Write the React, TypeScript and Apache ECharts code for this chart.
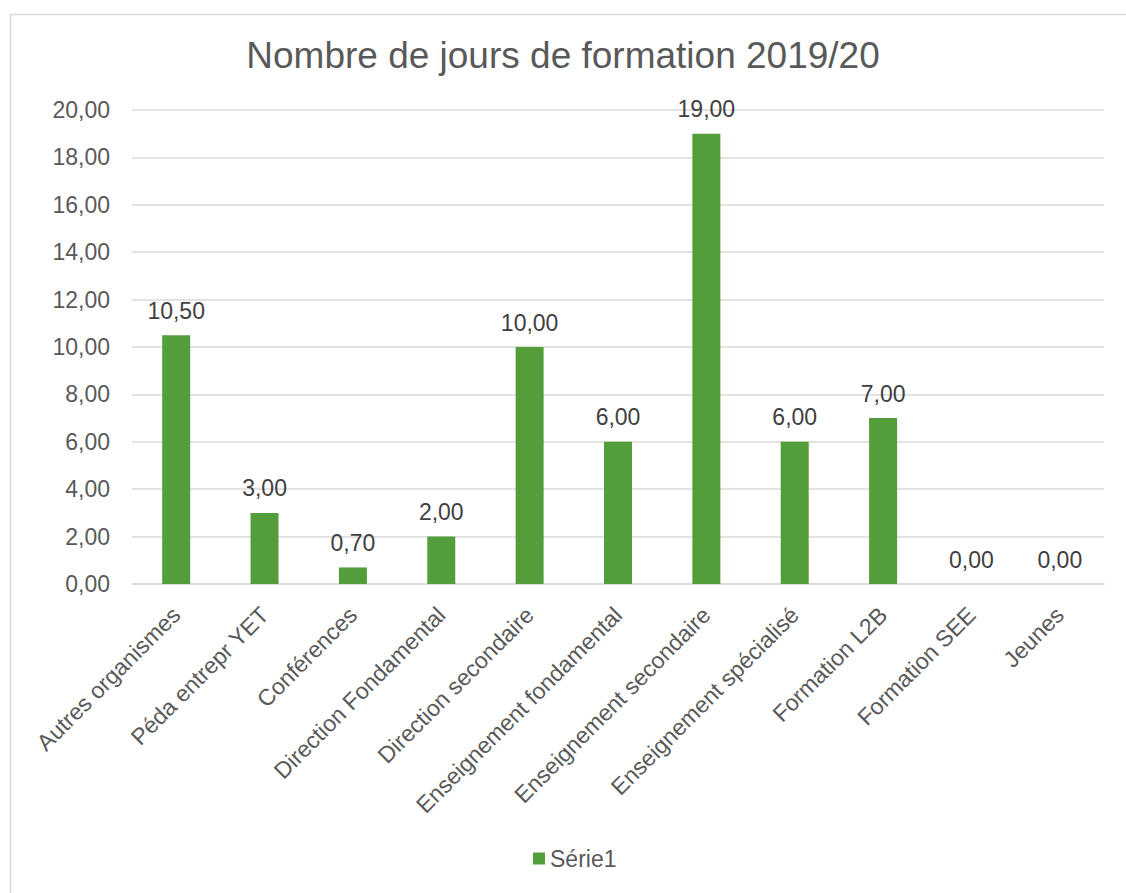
import React, { useEffect, useRef } from "react";
import * as echarts from "echarts";

const categories = [
  "Autres organismes",
  "Péda entrepr YET",
  "Conférences",
  "Direction Fondamental",
  "Direction secondaire",
  "Enseignement fondamental",
  "Enseignement secondaire",
  "Enseignement spécialisé",
  "Formation L2B",
  "Formation SEE",
  "Jeunes",
];
const values = [10.5, 3, 0.7, 2, 10, 6, 19, 6, 7, 0, 0];
const seriesName = "Série1";
const title = "Nombre de jours de formation 2019/20";

const fmt = (v: number) => v.toFixed(2).replace(".", ",");

export default function App() {
  const ref = useRef<HTMLDivElement>(null);
  useEffect(() => {
    const chart = echarts.init(ref.current!, null, { renderer: "svg" });
    const font = "Liberation Sans, Arial, sans-serif";
    chart.setOption({
      animation: false,
      backgroundColor: "#ffffff",
      textStyle: { fontFamily: font },
      title: {
        text: title,
        left: "center",
        top: 32,
        textStyle: { fontSize: 37, fontWeight: "normal", color: "#595959", fontFamily: font },
      },
      graphic: [
        {
          type: "rect",
          shape: { x: 10.5, y: 14.5, width: 1300, height: 1000 },
          style: { fill: "none", stroke: "#d9d9d9", lineWidth: 1.5 },
          silent: true,
        },
      ],
      legend: {
        bottom: 18,
        left: 528,
        itemWidth: 12,
        itemHeight: 12,
        icon: "rect",
        itemGap: 4,
        textStyle: { fontSize: 23, color: "#595959", fontFamily: font, padding: [0, 0, 0, 0] },
        data: [seriesName],
      },
      grid: { left: 132, right: 22, top: 110, bottom: 309, containLabel: false },
      xAxis: {
        type: "category",
        data: categories,
        axisLine: { show: true, lineStyle: { color: "#d9d9d9", width: 1.5 } },
        axisTick: { show: false },
        axisLabel: {
          rotate: 45,
          interval: 0,
          fontSize: 23,
          color: "#595959",
          margin: 27,
          fontFamily: font,
        },
      },
      yAxis: {
        type: "value",
        min: 0,
        max: 20,
        interval: 2,
        axisLine: { show: false },
        axisTick: { show: false },
        splitLine: { lineStyle: { color: "#d9d9d9", width: 1.5 } },
        axisLabel: {
          formatter: (v: number) => fmt(v),
          fontSize: 23,
          color: "#595959",
          margin: 22,
          fontFamily: font,
        },
      },
      series: [
        {
          name: seriesName,
          type: "bar",
          data: values,
          barWidth: 28,
          itemStyle: { color: "#539e3a" },
          label: {
            show: true,
            position: "top",
            distance: 13,
            formatter: (p: any) => fmt(p.value),
            fontSize: 23,
            color: "#404040",
            fontFamily: font,
          },
        },
      ],
    });
    return () => chart.dispose();
  }, []);
  return (
    <div
      ref={ref}
      style={{ position: "absolute", left: 0, top: 0, width: 1126, height: 893 }}
    />
  );
}
